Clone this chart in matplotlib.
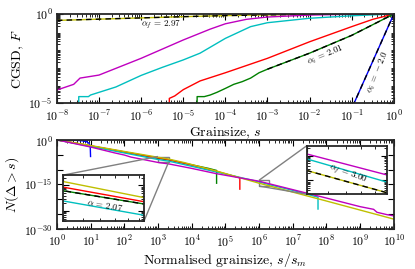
import numpy as np
import matplotlib
matplotlib.use("Agg")
import matplotlib.pyplot as plt
from matplotlib.ticker import LogLocator, NullLocator
from mpl_toolkits.axes_grid1.inset_locator import mark_inset

plt.rcParams["font.family"] = "serif"
plt.rcParams["font.serif"] = ["cmr10", "DejaVu Serif"]
plt.rcParams["mathtext.fontset"] = "cm"
plt.rcParams["axes.formatter.use_mathtext"] = True

# ---- top panel: CGSD F vs grainsize s (log10 values) ----
yel_s = [-8, -7, -6, -5, -4, -3, -2, -1, 0]
yel_F = [-0.36, -0.29, -0.22, -0.15, -0.09, -0.05, -0.02, -0.005, 0]
mag_s = [-8, -7.6, -7.45, -7, -6, -5, -4.36, -4, -3.5, -3, -2, -1, 0]
mag_F = [-4.27, -3.95, -3.6, -3.43, -2.49, -1.46, -0.85, -0.55, -0.3, -0.17, -0.06, -0.015, 0]
cyn_s = [-7.48, -7.48, -7.25, -7.2, -7, -6.6, -6, -5.5, -5, -4.6, -4, -3.4, -3, -2, -1, 0]
cyn_F = [-5.2, -4.64, -4.64, -4.55, -4.4, -4.1, -3.45, -3.0, -2.58, -2.2, -1.37, -0.71, -0.49, -0.24, -0.1, 0]
red_s = [-5.33, -5.33, -5.2, -5.0, -4.6, -4.0, -3.0, -2.0, -1.0, -0.5, 0]
red_F = [-5.2, -4.74, -4.6, -4.25, -3.76, -3.3, -2.49, -1.56, -0.71, -0.3, 0]
grn_s = [-4.67, -4.67, -4.5, -4.36, -4.2, -4.0, -3.8, -3.6, -3.4, -3.2, -3.0, -2.0, -1.0, 0]
grn_F = [-5.2, -4.64, -4.64, -4.55, -4.4, -4.18, -3.95, -3.8, -3.6, -3.3, -3.1, -2.2, -1.2, 0]
blu_s = [-0.98, 0]
blu_F = [-5.2, 0]

# ---- bottom panel: N(D > s) vs s/s_m (log10 values) ----
b_blu_x = [0, 0.5, 0.75, 0.88, 0.95, 0.99, 1.0]
b_blu_y = [0, -0.1, -0.3, -0.6, -1.1, -2.0, -5.6]
b_grn_x = [0, 1, 2, 3.0, 3.32, 4.0, 4.5, 4.74, 4.74]
b_grn_y = [0, -2.05, -4.1, -6.21, -6.73, -8.4, -9.6, -10.3, -14.6]
b_red_x = [0, 1, 2, 3.0, 3.32, 4.0, 4.74, 5.43, 5.43]
b_red_y = [0, -2.0, -4.05, -6.07, -6.64, -8.5, -10.6, -12.8, -16.6]
b_cyn_x = [0, 1, 2, 3.0, 3.32, 4.0, 5.0, 6.0, 6.3, 7.0, 7.75, 7.75]
b_cyn_y = [0, -2.2, -4.4, -6.61, -7.17, -8.9, -11.5, -14.13, -15.07, -17.0, -19.3, -23.3]
b_yel_x = [0, 1, 2, 3.0, 3.32, 3.8, 4.74, 6.0, 6.3, 8.0, 10]
b_yel_y = [0, -1.9, -3.9, -5.85, -6.48, -7.7, -10.5, -14.6, -15.5, -20.6, -26.7]
b_mag_x = [0, 1, 1.72, 2.0, 2.2, 3.0, 3.32, 4.0, 4.74, 6.0, 6.3, 8.0, 9.0, 9.4, 9.5, 9.8, 10]
b_mag_y = [0, -2.4, -4.4, -5.1, -5.8, -7.6, -8.1, -9.6, -11.4, -13.93, -14.78, -19.6, -22.5, -23.4, -24.4, -25.2, -25.6]


def p10(v):
    return 10.0 ** np.array(v)


def style_axes(ax, labelsize=8.5):
    ax.tick_params(which="both", direction="in", top=True, right=True,
                   labelsize=labelsize)
    ax.tick_params(axis="x", pad=4)
    ax.tick_params(axis="y", pad=3)
    ax.tick_params(which="major", length=4, width=0.8)
    ax.tick_params(which="minor", length=2, width=0.6)
    for sp in ax.spines.values():
        sp.set_linewidth(1.3)
        sp.set_edgecolor("0.15")


fig = plt.figure(figsize=(4.15, 2.69), dpi=100)
ax1 = fig.add_axes([0.137, 0.617, 0.812, 0.331])
ax2 = fig.add_axes([0.137, 0.149, 0.812, 0.331])

lw = 1.0
# top panel
ax1.plot(p10(yel_s), p10(yel_F), color="y", lw=lw)
ax1.plot(p10(yel_s), p10(yel_F), "k--", lw=lw, dashes=(4, 3))
ax1.plot(p10(mag_s), p10(mag_F), color="m", lw=lw)
ax1.plot(p10(cyn_s), p10(cyn_F), color="c", lw=lw)
ax1.plot(p10(red_s), p10(red_F), color="r", lw=lw)
ax1.plot(p10(grn_s), p10(grn_F), color="g", lw=lw)
ax1.plot(p10(grn_s[-4:]), p10(grn_F[-4:]), "k--", lw=lw, dashes=(4, 3))
ax1.plot(p10(blu_s), p10(blu_F), color="b", lw=lw)
ax1.plot(p10(blu_s), p10(blu_F), "k--", lw=lw, dashes=(4, 3))
ax1.set_xscale("log")
ax1.set_yscale("log")
ax1.set_xlim(1e-8, 1e0)
ax1.set_ylim(1e-5, 1e0)
ax1.set_xticks([10.0 ** k for k in range(-8, 1)])
ax1.set_yticks([1e-5, 1e0])
ax1.xaxis.set_minor_locator(LogLocator(base=10, subs=np.arange(2, 10), numticks=100))
ax1.yaxis.set_minor_locator(LogLocator(base=10, subs=np.arange(2, 10), numticks=100))
ax1.set_xlabel("Grainsize, $s$", fontsize=10, labelpad=1)
ax1.set_ylabel("CGSD, $F$", fontsize=10, labelpad=2)
style_axes(ax1)
ax1.text(10 ** -5.52, 10 ** -0.62, r"$\alpha_f\,=\,2.97$", fontsize=6.5,
         ha="center", va="center")
ax1.text(10 ** -1.62, 10 ** -2.3, r"$\alpha_i\,=\,2.01$", fontsize=6.5,
         ha="center", va="center", rotation=23)
ax1.text(10 ** -0.38, 10 ** -3.26, r"$\alpha_i\,=\,-2.0$", fontsize=6.5,
         ha="center", va="center", rotation=68)


# bottom panel
def draw_bottom(ax):
    ax.plot(p10(b_blu_x), p10(b_blu_y), color="b", lw=lw)
    ax.plot(p10(b_grn_x), p10(b_grn_y), color="g", lw=lw)
    ax.plot(p10(b_red_x), p10(b_red_y), color="r", lw=lw)
    ax.plot(p10(b_cyn_x), p10(b_cyn_y), color="c", lw=lw)
    ax.plot(p10(b_yel_x), p10(b_yel_y), color="y", lw=lw)
    ax.plot(p10(b_mag_x), p10(b_mag_y), color="m", lw=lw)
    ax.set_xscale("log")
    ax.set_yscale("log")


draw_bottom(ax2)
ax2.set_xlim(1e0, 1e10)
ax2.set_ylim(1e-30, 1e0)
ax2.set_xticks([10.0 ** k for k in range(0, 11)])
ax2.xaxis.set_minor_locator(LogLocator(base=10, subs=np.arange(2, 10), numticks=100))
ax2.set_yticks([10.0 ** k for k in range(-30, 1, 5)])
ax2.set_yticklabels(["$10^{-30}$", "", "", "$10^{-15}$", "", "", "$10^{0}$"])
ax2.yaxis.set_minor_locator(NullLocator())
ax2.set_xlabel("Normalised grainsize, $s/s_m$", fontsize=10, labelpad=1)
ax2.set_ylabel(r"$N(\Delta > s)$", fontsize=10, labelpad=2)
style_axes(ax2)

# left inset
axi1 = fig.add_axes([0.152, 0.178, 0.195, 0.171])
draw_bottom(axi1)
axi1.plot(p10(b_grn_x), p10(b_grn_y), "k--", lw=lw, dashes=(4, 3))
axi1.set_xlim(10 ** 3.0, 10 ** 3.32)
axi1.set_ylim(10 ** -7.4, 10 ** -5.6)
axi1.set_xticklabels([], minor=True)
axi1.set_yticklabels([], minor=True)
axi1.set_xticklabels([])
axi1.set_yticklabels([])
style_axes(axi1)
axi1.text(0.52, 0.35, r"$\alpha\,=\,2.07$", transform=axi1.transAxes,
          fontsize=6.5, ha="center", va="center", rotation=-10)
mark_inset(ax2, axi1, loc1=2, loc2=4, fc="none", ec="0.5", lw=1.0)

# right inset
axi2 = fig.add_axes([0.739, 0.278, 0.1935, 0.18])
draw_bottom(axi2)
axi2.plot(p10(b_yel_x), p10(b_yel_y), "k--", lw=lw, dashes=(4, 3))
axi2.set_xlim(10 ** 6.0, 10 ** 6.3)
axi2.set_ylim(10 ** -15.56, 10 ** -13.6)
axi2.set_xticklabels([], minor=True)
axi2.set_yticklabels([], minor=True)
axi2.set_xticklabels([])
axi2.set_yticklabels([])
style_axes(axi2)
axi2.text(0.51, 0.42, r"$\alpha_f\,=\,3.00$", transform=axi2.transAxes,
          fontsize=6.5, ha="center", va="center", rotation=-20)
mark_inset(ax2, axi2, loc1=2, loc2=3, fc="none", ec="0.5", lw=1.0)

fig.savefig("out.png", dpi=100)
